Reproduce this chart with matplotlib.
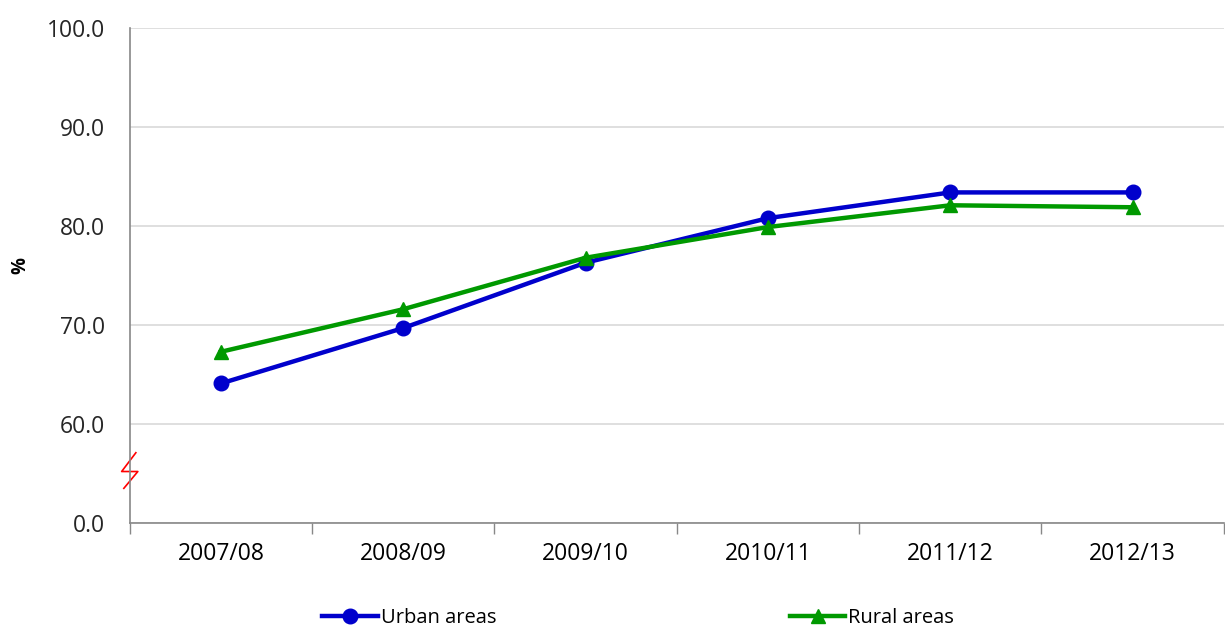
import numpy as np
import matplotlib
matplotlib.use('Agg')
import matplotlib.pyplot as plt
from matplotlib.transforms import blended_transform_factory

years = ['2007/08', '2008/09', '2009/10', '2010/11', '2011/12', '2012/13']
urban = [64.1, 69.7, 76.3, 80.8, 83.4, 83.4]
rural = [67.3, 71.6, 76.8, 79.9, 82.1, 81.9]
yticks = [50, 60, 70, 80, 90, 100]
ytick_labels = ['0.0', '60.0', '70.0', '80.0', '90.0', '100.0']

plt.rcParams['font.family'] = ['Open Sans', 'DejaVu Sans']

fig = plt.figure(figsize=(12.25, 6.32), dpi=100)
ax = fig.add_axes([0.106, 0.1725, 0.893, 0.783])

x = np.arange(len(years))
ax.plot(x, urban, '-o', color='#0000CC', lw=3.2, markersize=10.5, label='Urban areas')
ax.plot(x, rural, '-^', color='#009900', lw=3.2, markersize=10.5, label='Rural areas')

ax.set_xlim(-0.5, len(years) - 0.5)
ax.set_ylim(50, 100)
ax.set_yticks(yticks)
ax.set_yticklabels(ytick_labels, fontsize=16.5, color='#262626')
ax.tick_params(axis='y', length=0, pad=18)
ax.set_xticks(x)
ax.set_xticklabels(years, fontsize=16.5)
ax.tick_params(axis='x', which='major', length=0, pad=14)
ax.set_xticks(np.arange(-0.5, len(years)), minor=True)
ax.tick_params(axis='x', which='minor', length=8, color='#888888', width=1)
ax.grid(axis='y', color='#d9d9d9', lw=1.2)
ax.set_axisbelow(True)
for s in ['top', 'right']:
    ax.spines[s].set_visible(False)
for s in ['left', 'bottom']:
    ax.spines[s].set_color('#888888')
    ax.spines[s].set_linewidth(1.2)

ax.set_ylabel('%', fontsize=13.5, fontweight='bold')
ax.yaxis.set_label_coords(-0.091, 0.52)

# axis break symbol
tr = blended_transform_factory(ax.transAxes, ax.transData)
ax.plot([-0.0055, 0.0073, -0.0075, 0.0055], [53.5, 55.2, 55.2, 57.1],
        color='red', lw=1.2, transform=tr, clip_on=False)

fig.legend(loc='center', bbox_to_anchor=(0.521, 0.022), ncol=2, frameon=False,
           fontsize=14.5, handlelength=2.75, handletextpad=0.15, columnspacing=14.6,
           borderpad=0)

fig.savefig('out.png', dpi=100)
